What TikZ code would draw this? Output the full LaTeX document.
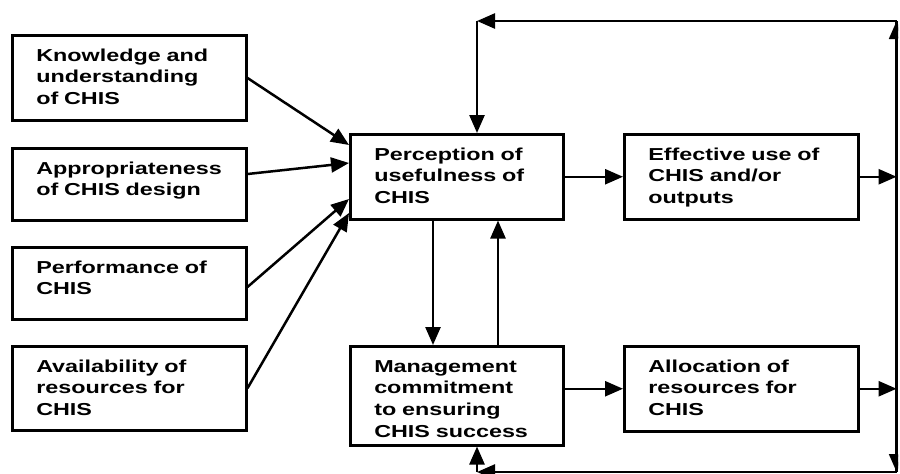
\documentclass[tikz,border=0pt]{standalone}
\usepackage{fontspec}
\setmainfont{Liberation Sans}[FakeStretch=1.35]
\usetikzlibrary{arrows.meta,calc}
\newcommand{\chisfont}{\fontsize{17.3}{21.7}\selectfont\bfseries}
\tikzset{
  box/.style={draw, line width=2.5pt, anchor=north west, inner xsep=24pt,
    inner ysep=0pt, align=left, text height=26pt, font=\chisfont},
  wide/.style={text width=186pt},
  narrow/.style={text width=165pt},
  link/.style={line width=2.5pt},
  arr/.style={line width=2.5pt, -{Triangle[length=18pt,width=15pt]}}
}
\begin{document}
\begin{tikzpicture}[x=1pt,y=-1pt]
\useasboundingbox (0,0) rectangle (900,474);
\fill[white] (0,0) rectangle (900,474);
\clip (0,0) rectangle (898.2,473.6);

% factors on the left
\node[box, wide, text depth=59pt] (know) at (11,34) {Knowledge and\\understanding\\of CHIS};
\node[box, wide, text depth=46pt] (design) at (11,147) {Appropriateness\\of CHIS design};
\node[box, wide, text depth=46pt] (perf) at (11,246) {Performance of\\CHIS};
\node[box, wide, text depth=58pt] (avail) at (11,345) {Availability of\\resources for\\CHIS};

% central column
\node[box, narrow, text depth=59pt] (useful) at (349,133) {Perception of\\usefulness of\\CHIS};
\node[box, narrow, text depth=73pt] (mgmt) at (349,345) {Management\\commitment\\to ensuring\\CHIS success};

% outcomes
\node[box, wide, text depth=59pt] (use) at (623,133) {Effective use of\\CHIS and/or\\outputs};
\node[box, wide, text depth=59pt] (alloc) at (623,345) {Allocation of\\resources for\\CHIS};

% feedback loop corners
\coordinate (tr) at (896.6,21);
\coordinate (tl) at (477,21);
\coordinate (br) at (896.6,472);
\coordinate (bl) at (477,472);

% factors feeding perception of usefulness
\draw[arr] ($(know.north east)+(0,44)$) -- ($(useful.north west)+(0,12)$);
\draw[arr] ($(design.north east)+(0,27)$) -- ($(useful.north west)+(0,30)$);
\draw[arr] ($(perf.north east)+(0,41)$) -- ($(useful.north west)+(0,66)$);
\draw[arr] (avail.east) -- ($(useful.north west)+(0,80)$);

% perception <-> management commitment
\draw[arr] ($(useful.south west)+(84,0)$) -- ($(mgmt.north west)+(84,0)$);
\draw[arr] ($(mgmt.north west)+(149,0)$) -- ($(useful.south west)+(149,0)$);

% to the outcomes
\draw[arr] (useful.east) -- (use.west);
\draw[arr] (mgmt.east |- alloc.west) -- (alloc.west);

% outcomes into the feedback line
\draw[link] (tr) -- (br);
\draw[arr] (use.east) -- (use.east -| tr);
\draw[arr] (alloc.east) -- (alloc.east -| br);

% feedback upward to perception
\draw[arr] (use.east -| tr) -- (tr);
\draw[arr] (tr) -- (tl);
\draw[arr] (tl) -- (tl |- useful.north);

% feedback downward to management
\draw[arr] (alloc.east -| br) -- (br);
\draw[arr] (br) -- (bl);
\draw[arr] (bl) -- (bl |- mgmt.south);
\end{tikzpicture}
\end{document}
